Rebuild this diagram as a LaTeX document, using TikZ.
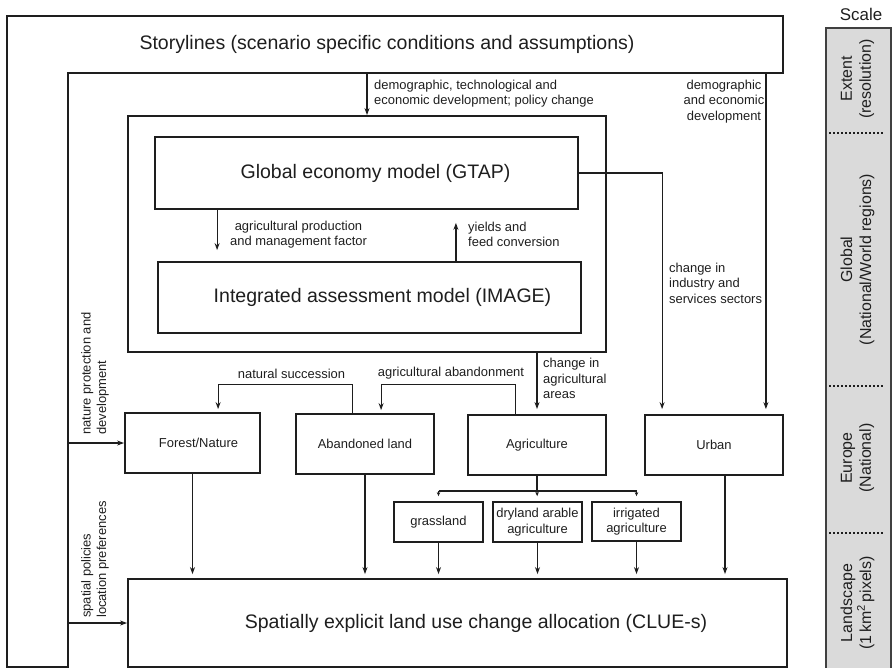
\documentclass[tikz,border=0pt]{standalone}
\usepackage{fontspec}
\setmainfont{Liberation Sans}
\usetikzlibrary{arrows.meta,calc}
\definecolor{ink}{HTML}{1E1E1E}
\definecolor{scalegray}{HTML}{DADADA}
\begin{document}
\begin{tikzpicture}[x=1bp,y=-1bp,
  every node/.style={text=ink},
  box/.style={draw=ink, line width=1.8bp, inner sep=0pt, font=\fontsize{13}{15.5}\selectfont, align=center},
  bigbox/.style={box, font=\fontsize{19.6}{23}\selectfont},
  conn/.style={line width=1.2bp, draw=ink},
  arr/.style={conn, -{Stealth[length=7bp,width=5bp]}},
  sarr/.style={conn, -{Stealth[length=4bp,width=3.5bp]}},
  lab/.style={inner sep=0pt, font=\fontsize{13}{15.5}\selectfont},
  scl/.style={inner sep=0pt, font=\fontsize{16}{19}\selectfont, align=center, rotate=90},
]
\useasboundingbox (0,0) rectangle (892,668);

% Storylines frame (inverted L)
\draw[ink, line width=1.8bp] (7,16) -- (783,16) -- (783,73) -- (68,73) -- (68,667) -- (7,667) -- cycle;
\node[inner sep=0pt, minimum width=776bp, minimum height=57bp, font=\fontsize{19.6}{23}\selectfont] (story) at (395,44.5) {Storylines (scenario specific conditions and assumptions)\hspace*{16bp}};
\coordinate (sl) at (68,667);

% boxes
\node[box, minimum width=478bp, minimum height=236bp] (outer) at (367,234) {};
\node[bigbox, minimum width=423bp, minimum height=72bp] (gtap) at (366.5,173) {\hspace*{18bp}Global economy model (GTAP)};
\node[bigbox, minimum width=423bp, minimum height=71bp] (image) at (369.5,297.5) {\hspace*{26bp}Integrated assessment model (IMAGE)};
\node[box, minimum width=135bp, minimum height=60bp] (forest) at (192.5,443) {\hspace*{12bp}Forest/Nature};
\node[box, minimum width=138bp, minimum height=60bp] (aband) at (365,444) {Abandoned land};
\node[box, minimum width=138bp, minimum height=60bp] (agri) at (537,445) {Agriculture};
\node[box, minimum width=138bp, minimum height=60bp] (urban) at (714,445) {Urban};
\node[box, minimum width=89bp, minimum height=40bp] (grass) at (438.5,522) {grassland};
\node[box, minimum width=89bp, minimum height=40bp] (dry) at (537.5,522) {dryland arable\\agriculture};
\node[box, minimum width=89bp, minimum height=39bp] (irr) at (636.5,521.5) {irrigated\\agriculture};
\node[bigbox, minimum width=659bp, minimum height=88bp] (clue) at (457.5,623) {\hspace*{37bp}Spatially explicit land use change allocation (CLUE-s)};

% connectors
\draw[arr] (story.south -| outer.north) -- (outer.north);
\coordinate (xa) at ($(gtap.south west)+(63,0)$);
\draw[arr, shorten >=11bp] (xa) -- (xa |- image.north);
\coordinate (xb) at ($(image.north east)+(-126,0)$);
\draw[arr, shorten >=13bp] (xb) -- (xb |- gtap.south);
\coordinate (xc) at ($(urban.north west)+(18,0)$);
\draw[arr, shorten >=5bp] (gtap.east) -| (xc);
\coordinate (xd) at ($(urban.north east)+(-18,0)$);
\draw[arr, shorten >=5bp] (story.south -| xd) -- (xd);
\draw[arr, shorten >=5bp] (outer.south -| agri.north) -- (agri.north);

\coordinate (ns1) at ($(aband.north west)+(57,0)$);
\coordinate (ns2) at ($(forest.north west)+(94,0)$);
\draw[arr, shorten >=3bp] (ns1) -- ++(0,-29) -| (ns2);
\coordinate (aa1) at ($(agri.north west)+(48,0)$);
\coordinate (aa2) at ($(aband.north west)+(86,0)$);
\draw[arr, shorten >=3bp] (aa1) -- ++(0,-30) -| (aa2);

\draw[arr] (forest.west -| sl) -- (forest.west);
\draw[arr] (clue.west -| sl) -- (clue.west);

\draw[arr, shorten >=4bp] (forest.south) -- (forest.south |- clue.north);
\draw[arr, shorten >=4bp] (aband.south) -- (aband.south |- clue.north);
\draw[arr, shorten >=4bp] (grass.south) -- (grass.south |- clue.north);
\draw[arr, shorten >=4bp] (dry.south) -- (dry.south |- clue.north);
\draw[arr, shorten >=4bp] (irr.south) -- (irr.south |- clue.north);
\coordinate (xu) at ($(urban.south)+(11,0)$);
\draw[arr, shorten >=4bp] (xu) -- (xu |- clue.north);

\draw[conn] (agri.south) -- ++(0,15) coordinate (hub);
\draw[conn] (grass.north |- hub) -- (irr.north |- hub);
\draw[sarr, shorten >=5bp] (grass.north |- hub) -- (grass.north);
\draw[sarr, shorten >=5bp] (hub) -- (dry.north);
\draw[sarr, shorten >=5bp] (irr.north |- hub) -- (irr.north);

% labels
\node[lab, anchor=west, align=left] at (374,93.5) {demographic, technological and\\economic development; policy change};
\node[lab, align=center] at (724,101.5) {demographic\\and economic\\development};
\node[lab, align=center] at (298.5,234.5) {agricultural production\\and management factor};
\node[lab, anchor=west, align=left] at (468,234.5) {yields and\\feed conversion};
\node[lab, anchor=west, align=left] at (669,283) {change in\\industry and\\services sectors};
\node[lab, anchor=west, align=left] at (543,378.5) {change in\\agricultural\\areas};
\node[lab] at (291.5,373.5) {natural succession};
\node[lab] at (451,373.5) {agricultural abandonment};
\node[lab, rotate=90, anchor=west, align=left] at (95,435) {nature protection and\\development};
\node[lab, rotate=90, anchor=west, align=left] at (95,618) {spatial policies\\location preferences};

% scale column
\fill[scalegray] (826,28) rectangle (891,668);
\draw[ink!85, line width=1.2bp] (826,668) -- (826,28) -- (891,28) -- (891,668);
\foreach \yy in {133,386,533} \draw[ink, line width=1.2bp, dash pattern=on 1.5bp off 2.5bp] (829,\yy) -- (885,\yy);
\node[inner sep=0pt, font=\fontsize{17}{20}\selectfont] (scale) at (861,14) {Scale};
\node[scl] (s1) at (857.5,79) {Extent\\(resolution)};
\node[scl] (s2) at (857.5,259.5) {Global\\(National/World regions)};
\node[scl] (s3) at (857.5,458) {Europe\\(National)};
\node[scl] (s4) at (857.5,603) {Landscape\\(1\,km\textsuperscript{2}\,pixels)};
\end{tikzpicture}
\end{document}
